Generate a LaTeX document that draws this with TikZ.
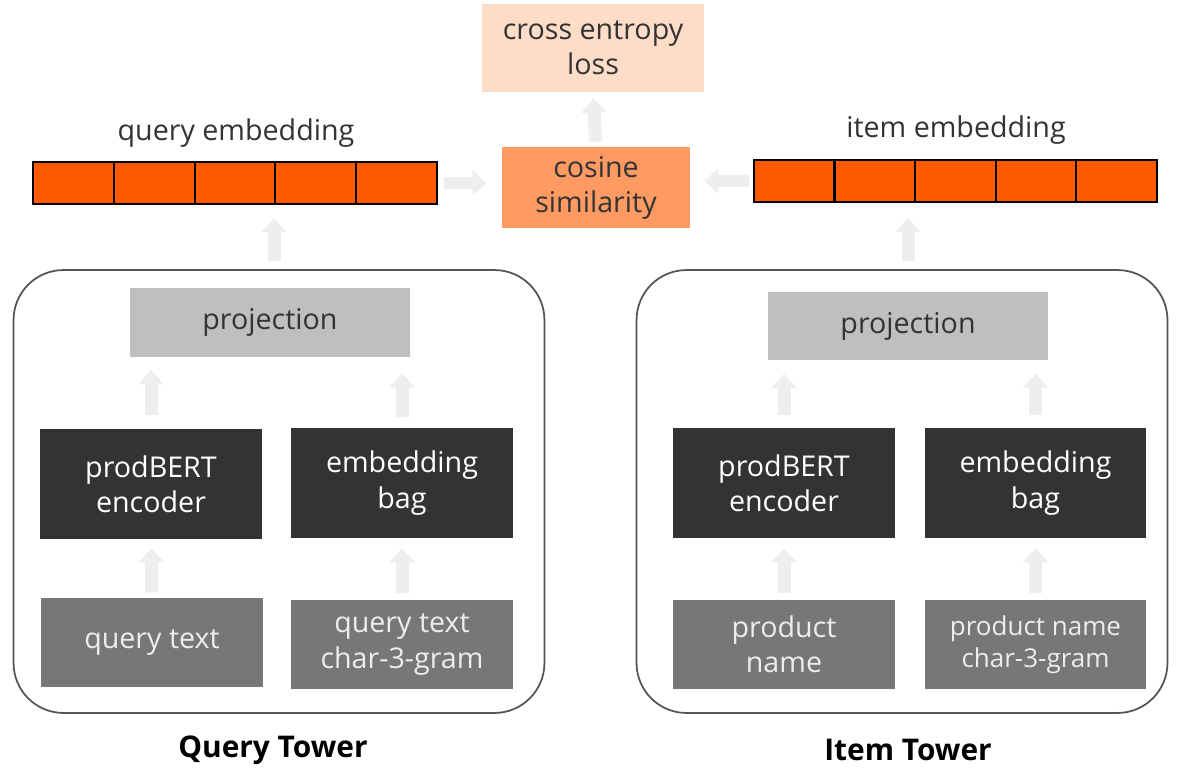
\documentclass[tikz,border=0pt]{standalone}
\usepackage{fontspec}
\setmainfont{Open Sans}
\usepackage{tikz}
\usetikzlibrary{positioning}
\usetikzlibrary{arrows.meta,shapes,calc}
\usepackage{xcolor}

\definecolor{lossfill}{HTML}{FDDCC8}
\definecolor{cosfill}{HTML}{FF9A62}
\definecolor{embfill}{HTML}{FF5A00}
\definecolor{projfill}{HTML}{BFBFBF}
\definecolor{darkfill}{HTML}{333333}
\definecolor{inputfill}{HTML}{777777}
\definecolor{flowgray}{HTML}{EEEEEE}
\definecolor{textgray}{HTML}{333333}
\definecolor{framegray}{HTML}{555555}

\tikzset{
  box/.style={rectangle, align=center, inner sep=0pt, font=\fontsize{16.3}{20}\selectfont},
  loss/.style={box, fill=lossfill, text=textgray, minimum width=4.44cm, minimum height=1.76cm},
  cosine/.style={box, fill=cosfill, text=textgray, minimum width=3.76cm, minimum height=1.62cm},
  cell/.style={rectangle, draw=black, line width=1.2pt, fill=embfill, minimum width=1.616cm, minimum height=0.84cm, inner sep=0pt},
  tower/.style={rectangle, draw=framegray, line width=1pt, rounded corners=1cm, minimum width=10.62cm, minimum height=8.86cm},
  proj/.style={box, fill=projfill, text=textgray, minimum width=5.6cm, minimum height=1.38cm},
  encoder/.style={box, fill=darkfill, text=white, minimum width=4.44cm, minimum height=2.2cm},
  input/.style={box, fill=inputfill, text=white!93!black, minimum width=4.44cm, minimum height=1.78cm},
  flow/.style={draw=flowgray, line width=0.26cm, -{Triangle[width=0.5cm,length=0.28cm]}},
  caption/.style={font=\fontsize{16.3}{20}\selectfont, text=textgray},
  towername/.style={font=\fontsize{17}{20}\selectfont\bfseries, text=black}
}

\begin{document}
\begin{tikzpicture}[x=0.02cm,y=-0.02cm]
\useasboundingbox (0,0) rectangle (1179,767);

\node[loss] (loss) at (593,48) {cross entropy\\loss};
\node[cosine] (cos) at (596,187.5) {cosine\\similarity};

% embedding vectors
\foreach \i in {0,...,4} {
  \node[cell] (qemb\i) at (73.4+\i*80.8,183) {};
  \node[cell] (iemb\i) at (794.3+\i*80.6,181) {};
}
\node[caption] (qlabel) at (236,133) {query embedding};
\node[caption] (ilabel) at (956,130) {item embedding};

% towers
\node[tower] (qtower) at (279,491.5) {};
\node[tower] (itower) at (902,491.5) {};
\node[towername] (qname) at (273,750) {Query Tower};
\node[towername] (iname) at (908,750) {Item Tower};

\node[proj] (qproj) at (270,322.5) {projection};
\node[encoder] (qbert) at (151,484) {prodBERT\\encoder};
\node[encoder] (qbag) at (402,483) {embedding\\bag};
\node[input] (qtext) at (152,642.5) {query text};
\node[input] (qgram) at (402,644.5) {query text\\char-3-gram};

\node[proj] (iproj) at (908,326) {projection};
\node[encoder] (ibert) at (784,483) {prodBERT\\encoder};
\node[encoder] (ibag) at (1035.5,483) {embedding\\bag};
\node[input] (iname2) at (784,644.5) {product\\name};
\node[input, font=\fontsize{14.8}{18.5}\selectfont] (igram) at (1035.5,644.5) {product name\\char-3-gram};

% data flow
\draw[flow, shorten <=0.1cm, shorten >=0.18cm] (qtext) -- (qbert);
\draw[flow, shorten <=0.14cm, shorten >=0.2cm] (qgram) -- (qbag);
\draw[flow, shorten <=0.28cm, shorten >=0.26cm] (qbert.north) -- (qbert.north |- qproj.south);
\draw[flow, shorten <=0.22cm, shorten >=0.32cm] (qbag.north) -- (qbag.north |- qproj.south);
\draw[flow, shorten <=0.16cm, shorten >=0.26cm] ([xshift=-0.1cm]qtower.north) -- ([xshift=-0.1cm]qtower.north |- qemb2.south);

\draw[flow, shorten <=0.14cm, shorten >=0.2cm] (iname2) -- (ibert);
\draw[flow, shorten <=0.14cm, shorten >=0.2cm] (igram) -- (ibag);
\draw[flow, shorten <=0.26cm, shorten >=0.26cm] (ibert.north) -- (ibert.north |- iproj.south);
\draw[flow, shorten <=0.26cm, shorten >=0.26cm] (ibag.north) -- (ibag.north |- iproj.south);
\draw[flow, shorten <=0.16cm, shorten >=0.3cm] ([xshift=0.12cm]itower.north) -- ([xshift=0.12cm]itower.north |- iemb1.south);

\draw[flow, shorten <=0.12cm, shorten >=0.3cm] (qemb4.east) -- (qemb4.east -| cos.west);
\draw[flow, shorten <=0.08cm, shorten >=0.28cm] (iemb0.west) -- (iemb0.west -| cos.east);
\draw[flow, shorten <=0.1cm, shorten >=0.12cm] (cos.north) -- (loss.south);

\end{tikzpicture}
\end{document}
